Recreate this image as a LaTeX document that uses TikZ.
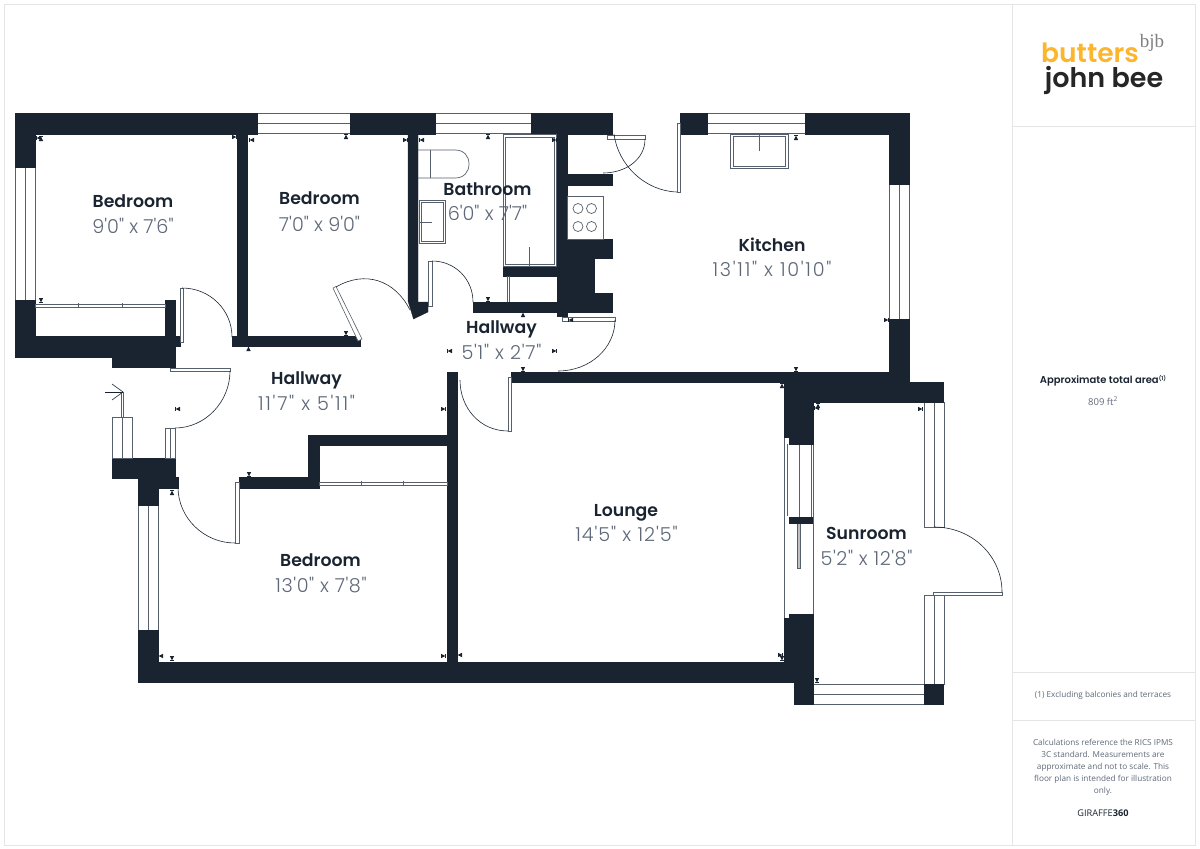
\documentclass[tikz,border=0pt]{standalone}
\usepackage{fontspec}
\newfontfamily\roomfont{Poppins SemiBold}
\newfontfamily\sizefont{Poppins Light}
\newfontfamily\notefont{Open Sans}
\newfontfamily\bjbfont{Liberation Serif}
\newcommand{\widesize}[1]{\addfontfeature{LetterSpace=#1}}
\definecolor{walldark}{HTML}{1A2431}
\definecolor{sizegrey}{HTML}{5E6878}
\definecolor{linegrey}{HTML}{55606C}
\definecolor{panelgrey}{HTML}{E4E5E7}
\definecolor{logoyellow}{HTML}{FBB62E}
\tikzset{
	wall/.style={fill=walldark, draw=walldark, line width=0.3pt},
	glass/.style={fill=white, draw=linegrey, line width=0.6pt},
	fixture/.style={draw=linegrey, line width=0.7pt},
	swing/.style={draw=walldark, line width=0.6pt},
	slider/.style={fill=white, draw=linegrey, line width=0.6pt},
	roomname/.style={text=walldark, font=\roomfont\fontsize{17.3}{20}\selectfont, text depth=0pt},
	roomsize/.style={text=sizegrey, font=\sizefont\fontsize{19.2}{20}\selectfont},
	noteline/.style={text=sizegrey, font=\notefont\fontsize{8.2}{12}\selectfont, align=center},
}
\begin{document}
\begin{tikzpicture}[x=1pt,y=-1pt]
	\useasboundingbox (0,0) rectangle (1200,849);
	
	% sheet and side panel
	\draw[panelgrey, line width=1pt] (4,4) rectangle (1195,845);
	\draw[panelgrey, line width=1pt] (1012,4) -- (1012,845);
	\draw[panelgrey, line width=1pt] (1012,126) -- (1195,126);
	\draw[panelgrey, line width=1pt] (1012,672.5) -- (1195,672.5);
	\draw[panelgrey, line width=1pt] (1012,720) -- (1195,720);
	
	% windows
	\foreach \xa/\xb in {257/350,435/531,707/805}{
		\filldraw[glass] (\xa,113.5) rectangle (\xb,133.7);
		\draw[glass] (\xa,123.5) -- (\xb,123.5);
	}
	\foreach \xa/\ya/\yb in {15/167/300,889/184/319,138/505/630,924/402/527,924/595/684}{
		\filldraw[glass] (\xa,\ya) rectangle (\xa+20,\yb);
		\draw[glass] (\xa+10,\ya) -- (\xa+10,\yb);
	}
	\filldraw[glass] (813,684) rectangle (924,704);
	\draw[glass] (813,694) -- (924,694);
	
	% glazing between lounge and sunroom
	\draw[glass] (784,437) -- (784,618);
	\draw[glass] (813,437) -- (813,614);
	\draw[glass] (787,444) -- (787,516);
	\draw[glass] (799,444) -- (799,517);
	\draw[glass] (811,432) -- (811,517);
	\filldraw[fill=lightgray, draw=linegrey, line width=0.4pt] (797.5,522) rectangle (800.5,568);
	
	% walls, top run
	\filldraw[wall] (15,113.5) rectangle (257,133.7);
	\filldraw[wall] (350,113.5) rectangle (435,133.7);
	\filldraw[wall] (531,113.5) rectangle (612,133.7);
	\filldraw[wall] (680,113.5) rectangle (707,133.7);
	\filldraw[wall] (805,113.5) rectangle (909,133.7);
	\filldraw[wall] (889,113.5) rectangle (909,184);
	\filldraw[wall] (889,319) rectangle (909,402);
	
	% walls, bedrooms at the top
	\filldraw[wall] (15,113.5) rectangle (35,167);
	\filldraw[wall] (15,300) rectangle (35,357);
	\filldraw[wall] (15,336) rectangle (175,357);
	\filldraw[wall] (112,336) rectangle (175,367);
	\filldraw[wall] (165,300) rectangle (175,367);
	\filldraw[wall] (175,336) rectangle (180,346);
	\filldraw[wall] (237.3,133) rectangle (247.3,346);
	\filldraw[wall] (232,336) rectangle (360,346);
	\filldraw[wall] (408,133) -- (418,133) -- (418,302) -- (428,302) -- (428,312) -- (413.5,319) -- (408,301) -- cycle;
	
	% walls, bathroom and kitchen block
	\filldraw[wall] (557,133) rectangle (567,316);
	\filldraw[wall] (567,174) rectangle (612,185);
	\filldraw[wall] (557,239) rectangle (612,312);
	\filldraw[wall] (473,302) rectangle (612,312);
	\filldraw[wall] (503,266) rectangle (557,276);
	\filldraw[fill=white, draw=white] (595,259) rectangle (612.5,292);
	
	% walls, middle of the flat
	\filldraw[wall] (511,372) rectangle (889,382);
	\filldraw[wall] (784,372) rectangle (909,402);
	\filldraw[wall] (909,381.7) rectangle (943.5,402);
	\filldraw[wall] (784,382) -- (813,382) -- (813,444) -- (789,444) -- (789,437) -- (784,437) -- cycle;
	\filldraw[wall] (789,517) rectangle (812,522.7);
	\filldraw[wall] (447,372) rectangle (457,662);
	\filldraw[wall] (308,435) rectangle (447,445);
	\filldraw[wall] (308,435) rectangle (319,487.7);
	\filldraw[wall] (239,477) rectangle (319,487.7);
	
	% walls, bottom run
	\filldraw[wall] (112,458) rectangle (175,478);
	\filldraw[wall] (138,478) rectangle (175,487.7);
	\filldraw[wall] (175,477) rectangle (178,487.7);
	\filldraw[wall] (138,478) rectangle (158,505);
	\filldraw[wall] (138,630) rectangle (158,682);
	\filldraw[wall] (138,662) rectangle (794,682);
	\filldraw[wall] (789,614) -- (813,614) -- (813,704) -- (794,704) -- (794,662) -- (784,662) -- (784,618) -- (789,618) -- cycle;
	\filldraw[wall] (924,684) rectangle (943.5,704);
	
	% sliding wardrobe fronts
	\filldraw[slider] (35,304) rectangle (165,307);
	\filldraw[slider] (319,482) rectangle (447,485);
	\foreach \x in {78,122}
		\draw[fixture] (\x,303) -- (\x,308);
	\foreach \x in {361,403}
		\draw[fixture] (\x,481) -- (\x,486);
	
	% doors
	\filldraw[slider] (180,288) rectangle (183,342);
	\draw[swing] (182,288) .. controls (210,288) and (232,310) .. (232,337);
	\filldraw[slider] (170,368) rectangle (230,371);
	\draw[swing] (230,371) .. controls (230,402) and (205,428) .. (175,428);
	\filldraw[slider] (235,482) rectangle (239,543);
	\draw[swing] (178,487) .. controls (178,518) and (204,543) .. (235,543);
	\filldraw[slider] (333,288) -- (336,286.5) -- (362,339) -- (358,341) -- cycle;
	\draw[swing] (336,287) .. controls (365,270) and (395,280) .. (410,310);
	\filldraw[slider] (428,261) rectangle (432,306);
	\draw[swing] (432,261) .. controls (455,261) and (473,279) .. (473,302);
	\filldraw[slider] (562,317) rectangle (615,321);
	\draw[swing] (615,320) .. controls (615,348) and (590,371) .. (558,371);
	\filldraw[slider] (508,377) rectangle (511,431);
	\draw[swing] (460,380) .. controls (460,408) and (480,431) .. (508,431);
	\filldraw[slider] (607,135) rectangle (645,139);
	\draw[swing] (645,139) .. controls (645,160) and (625,173) .. (603,173);
	\filldraw[slider] (677,123) rectangle (680.7,192);
	\draw[swing] (614,134) .. controls (618,165) and (645,191) .. (677,192);
	\filldraw[slider] (933,592) rectangle (1002,595);
	\draw[swing] (934,527) .. controls (972,527) and (1002,556) .. (1002,592);
	
	% entrance
	\filldraw[glass] (165,428) rectangle (175,458);
	\draw[glass] (170,428) -- (170,458);
	\filldraw[glass] (112,417) rectangle (132,458);
	\draw[glass] (122,417) -- (122,458);
	\draw[glass] (121,417) -- (121,392) -- (123,392) -- (123,417);
	\draw[swing] (105,392) -- (123,392);
	\draw[swing] (112,384) -- (123,392) -- (112,400);
	
	% bathroom fittings
	\draw[fixture] (418,150) -- (455,150) .. controls (464,150) and (469,156) .. (469,164) .. controls (469,172) and (464,178) .. (455,178) -- (418,178);
	\draw[fixture] (430.5,150) -- (430.5,178);
	\draw[fixture] (419,200) rectangle (445,243);
	\draw[fixture] (421,202) rectangle (443,241);
	\draw[fixture] (419,222) -- (432,222);
	\draw[fixture] (503,134) rectangle (556,266);
	\draw[fixture] (505.5,137) rectangle (554,264);
	\draw[fixture] (529,247) -- (529,266);
	\draw[fixture] (507,276) -- (507,302);
	\draw[fixture] (509,276) -- (509,302);
	
	% kitchen fittings
	\draw[fixture] (567,196) rectangle (603,239);
	\foreach \x in {578,591.5}
		\foreach \y in {208.5,226.5}
			\draw[fixture] (\x,\y) circle (5pt);
	\draw[fixture] (730,134) rectangle (788,168);
	\draw[fixture] (733,136) rectangle (785,166);
	\draw[fixture] (759,134) -- (759,151);
	
	% measuring marks: tip position and direction of the body
	\foreach \x/\y/\a in {36/138/0,41/136/270,237/137/180,41/303/90,249/140/0,346/134/270,408/140/180,346/336/90,419/140/0,488/134/270,557/140/180,488/302/90,248.5/346/270,523/312/270,523/372/90,447/351/0,557/351/180,568/320/0,175/409/0,446/409/180,249/477/90,172/490/270,158/656/0,172/661/90,446/656/180,457/655/0,782/383/270,782/661/90,783/655/180,796/135/270,889/320/180,796/372/90,814/408/0,818/403/270,923/409/180,817/683/90}{
		\fill[walldark, shift={(\x,\y)}, rotate=\a] (0.5,0) -- (5,2.2) -- (5,-2.2) -- cycle;
		\draw[walldark, line width=0.6pt, shift={(\x,\y)}, rotate=\a] (0.5,-2.2) -- (0.5,2.2);
	}
	
	% room labels
	\node[roomname] (bedroomWest) at (133,201) {Bedroom};
	\node[roomsize] (bedroomWestSize) at (133,226) {9'0" x 7'6"};
	\node[roomname] (bedroomNorth) at (319.5,198.5) {Bedroom};
	\node[roomsize] (bedroomNorthSize) at (319.5,223.5) {7'0" x 9'0"};
	\node[roomname] (bathroom) at (487.5,189) {Bathroom};
	\node[roomsize] (bathroomSize) at (487.5,213) {6'0" x 7'7"};
	\node[roomname] (kitchen) at (772,245) {Kitchen};
	\node[roomsize] (kitchenSize) at (772,269) {\widesize{9}13'11" x 10'10"};
	\node[roomname] (hallSmall) at (501.5,327) {Hallway};
	\node[roomsize] (hallSmallSize) at (501.5,352) {\widesize{4}5'1" x 2'7"};
	\node[roomname] (hallLarge) at (306.5,378) {Hallway};
	\node[roomsize] (hallLargeSize) at (306.5,403) {\widesize{9}11'7" x 5'11"};
	\node[roomname] (bedroomSouth) at (320.5,560) {Bedroom};
	\node[roomsize] (bedroomSouthSize) at (321,585) {\widesize{3}13'0" x 7'8"};
	\node[roomname] (lounge) at (626,510) {Lounge};
	\node[roomsize] (loungeSize) at (626.5,534) {\widesize{5}14'5" x 12'5"};
	\node[roomname] (sunroom) at (866.5,533) {Sunroom};
	\node[roomsize] (sunroomSize) at (866.5,558) {\widesize{3}5'2" x 12'8"};
	
	% side panel text
	\node[text=logoyellow, font=\roomfont\fontsize{26.5}{30}\selectfont] (logoTop) at (1090,53) {butters};
	\node[text=black!85, font=\roomfont\fontsize{27}{30}\selectfont] (logoBottom) at (1104,80) {john bee};
	\node[text=gray, font=\bjbfont\fontsize{19}{20}\selectfont] (logoMark) at (1152,43) {bjb};
	\node[text=walldark, font=\roomfont\fontsize{10}{12}\selectfont] (areaTitle) at (1103,381) {Approximate total area\raisebox{3pt}{\fontsize{5.5}{6}\selectfont(1)}};
	\node[noteline, font=\notefont\fontsize{9.5}{12}\selectfont] (areaValue) at (1103,401) {809 ft\textsuperscript{2}};
	\node[noteline] (areaNote) at (1103,695) {(1) Excluding balconies and terraces};
	\node[noteline] (disclaimer) at (1103,767) {Calculations reference the RICS IPMS\\3C standard. Measurements are\\approximate and not to scale. This\\floor plan is intended for illustration\\only.};
	\node[text=walldark, font=\notefont\fontsize{9.2}{12}\selectfont] (maker) at (1103,813) {GIRAFFE\textbf{360}};
\end{tikzpicture}
\end{document}
